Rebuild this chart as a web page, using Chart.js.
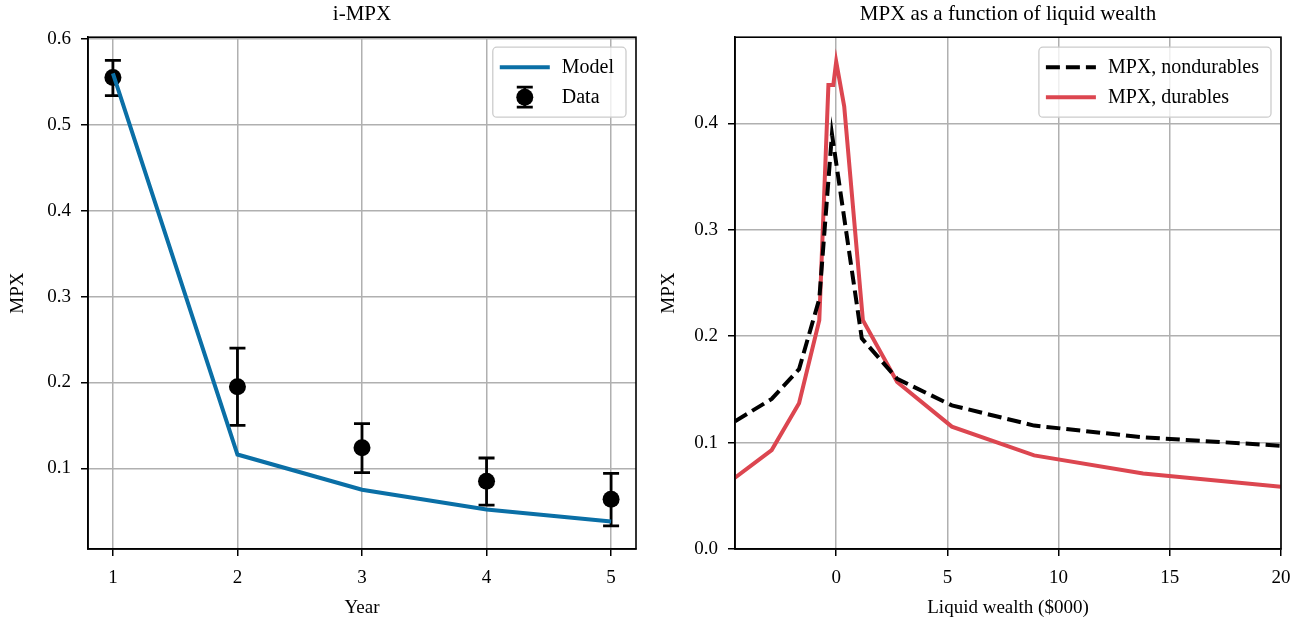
<!DOCTYPE html>
<html>
<head>
<meta charset="utf-8">
<script src="https://cdn.jsdelivr.net/npm/chart.js@4.4.1/dist/chart.umd.min.js"></script>
<style>
  html, body { margin: 0; padding: 0; background: #fff; }
  .wrap { position: absolute; top: 0; width: 651px; height: 623px; }
  #left { left: 0; }
  #right { left: 651px; }
</style>
</head>
<body>
<div class="wrap" id="left"><canvas id="cLeft"></canvas></div>
<div class="wrap" id="right"><canvas id="cRight"></canvas></div>
<script>
// left panel: i-MPX by year
const years = [1, 2, 3, 4, 5];
const modelMpx = [0.56, 0.116, 0.075, 0.052, 0.038];
const dataMpx = [0.555, 0.195, 0.124, 0.085, 0.064];
const dataLow = [0.534, 0.150, 0.095, 0.057, 0.033];
const dataHigh = [0.575, 0.240, 0.152, 0.112, 0.094];
const yearTicks = [1, 2, 3, 4, 5];
const leftMpxTicks = [0.1, 0.2, 0.3, 0.4, 0.5, 0.6];

// right panel: MPX vs liquid wealth ($000)
const wealthNondur = [-4.55, -2.9, -1.67, -0.76, -0.19, 1.15, 2.74, 5.2, 8.9, 13.8, 20];
const mpxNondur = [0.12, 0.141, 0.169, 0.235, 0.39, 0.198, 0.16, 0.135, 0.116, 0.105, 0.097];
const wealthDur = [-4.55, -2.9, -1.67, -0.76, -0.35, -0.13, 0.0, 0.36, 1.2, 2.74, 5.2, 8.9, 13.8, 20];
const mpxDur = [0.067, 0.093, 0.137, 0.215, 0.436, 0.436, 0.458, 0.416, 0.215, 0.157, 0.115, 0.088, 0.071, 0.0585];
const wealthTicks = [0, 5, 10, 15, 20];
const rightMpxTicks = [0.0, 0.1, 0.2, 0.3, 0.4];

const BLUE = '#0a6fa6';
const RED = '#dc4650';
const FONT = "'Liberation Serif', 'DejaVu Serif', serif";

Chart.defaults.font.family = FONT;
Chart.defaults.color = '#000';
Chart.defaults.animation = false;

const toPts = (xs, ys) => xs.map((x, i) => ({ x: x, y: ys[i] }));

function axis(min, max, ticks, fmt, title, fitSize, isY) {
  return {
    type: 'linear',
    min: min,
    max: max,
    afterBuildTicks: s => { s.ticks = ticks.map(v => ({ value: v })); },
    afterFit: s => { if (isY) s.width = fitSize; else s.height = fitSize; },
    ticks: { font: { size: 19 }, padding: isY ? 10 : 11, callback: fmt, maxRotation: 0, autoSkip: false },
    grid: { color: '#b0b0b0', lineWidth: 1.5, tickColor: '#000', tickLength: 7, tickWidth: 1.5 },
    border: { display: true, color: '#000', width: 1.6 },
    title: { display: true, text: title, font: { size: 19 }, padding: isY ? { top: 7, bottom: 0 } : { top: 0, bottom: 4 } }
  };
}

// black frame all round the plot area
const frame = {
  id: 'frame',
  afterDraw(chart) {
    const a = chart.chartArea, c = chart.ctx;
    c.save();
    c.strokeStyle = '#000';
    c.lineWidth = 1.6;
    c.strokeRect(a.left, a.top, a.right - a.left, a.bottom - a.top);
    c.restore();
  }
};

function drawErrBar(c, x, y0, y1, cap) {
  c.beginPath();
  c.moveTo(x, y0); c.lineTo(x, y1);
  c.moveTo(x - cap, y0); c.lineTo(x + cap, y0);
  c.moveTo(x - cap, y1); c.lineTo(x + cap, y1);
  c.stroke();
}

const errBars = {
  id: 'errBars',
  beforeDatasetDraw(chart, args) {
    if (args.index !== 1) return;
    const xs = chart.scales.x, ys = chart.scales.y, c = chart.ctx;
    c.save();
    c.strokeStyle = '#000';
    c.lineWidth = 2.8;
    years.forEach((yr, i) => {
      drawErrBar(c, xs.getPixelForValue(yr), ys.getPixelForValue(dataLow[i]), ys.getPixelForValue(dataHigh[i]), 8);
    });
    c.restore();
  }
};

// legend drawn inside the plot area, upper right
function insideLegend(entries) {
  return {
    id: 'insideLegend',
    afterDraw(chart) {
      const a = chart.chartArea, c = chart.ctx;
      c.save();
      c.font = '20px ' + FONT;
      const tw = Math.max(...entries.map(e => c.measureText(e.label).width));
      const w = 7 + 50 + 12 + tw + 12, h = 70;
      const x0 = a.right - 10 - w, y0 = a.top + 10;
      c.fillStyle = 'rgba(255,255,255,0.8)';
      c.strokeStyle = '#cccccc';
      c.lineWidth = 1.3;
      c.beginPath();
      c.roundRect(x0, y0, w, h, 4);
      c.fill(); c.stroke();
      entries.forEach((e, i) => {
        const y = y0 + 20 + i * 30;
        const hx = x0 + 7;
        c.strokeStyle = e.color;
        c.fillStyle = e.color;
        if (e.kind === 'err') {
          c.lineWidth = 2.8;
          drawErrBar(c, hx + 25, y - 10, y + 10, 8);
          c.beginPath(); c.arc(hx + 25, y, 8.5, 0, Math.PI * 2); c.fill();
        } else {
          c.lineWidth = 4;
          c.setLineDash(e.dash || []);
          c.beginPath(); c.moveTo(hx, y); c.lineTo(hx + 50, y); c.stroke();
          c.setLineDash([]);
        }
        c.fillStyle = '#000';
        c.textBaseline = 'middle';
        c.fillText(e.label, hx + 62, y + 1);
      });
      c.restore();
    }
  };
}

new Chart(document.getElementById('cLeft'), {
  type: 'scatter',
  data: {
    datasets: [
      { label: 'Model', data: toPts(years, modelMpx), showLine: true, borderColor: BLUE, borderWidth: 4, pointRadius: 0 },
      { label: 'Data', data: toPts(years, dataMpx), showLine: false, backgroundColor: '#000', borderColor: '#000', pointRadius: 8.5, borderWidth: 0 }
    ]
  },
  options: {
    responsive: true,
    maintainAspectRatio: false,
    layout: { padding: { left: 0, right: 15, top: 0, bottom: 0 } },
    plugins: {
      legend: { display: false },
      tooltip: { enabled: false },
      title: { display: true, text: 'i-MPX', fullSize: false, font: { size: 21, weight: 'normal' }, padding: { top: 2, bottom: 10 } }
    },
    scales: {
      x: axis(0.8, 5.2, yearTicks, v => String(v), 'Year', 74, false),
      y: axis(0.006, 0.602, leftMpxTicks, v => v.toFixed(1), 'MPX', 88, true)
    }
  },
  plugins: [errBars, frame, insideLegend([
    { label: 'Model', color: BLUE, kind: 'line' },
    { label: 'Data', color: '#000', kind: 'err' }
  ])]
});

new Chart(document.getElementById('cRight'), {
  type: 'scatter',
  data: {
    datasets: [
      { label: 'MPX, nondurables', data: toPts(wealthNondur, mpxNondur), showLine: true, borderColor: '#000', borderWidth: 4, borderDash: [14, 6], pointRadius: 0 },
      { label: 'MPX, durables', data: toPts(wealthDur, mpxDur), showLine: true, borderColor: RED, borderWidth: 4, pointRadius: 0 }
    ]
  },
  options: {
    responsive: true,
    maintainAspectRatio: false,
    layout: { padding: { left: 0, right: 21, top: 0, bottom: 0 } },
    plugins: {
      legend: { display: false },
      tooltip: { enabled: false },
      title: { display: true, text: 'MPX as a function of liquid wealth', fullSize: false, font: { size: 21, weight: 'normal' }, padding: { top: 2, bottom: 10 } }
    },
    scales: {
      x: axis(-4.55, 20, wealthTicks, v => String(v), 'Liquid wealth ($000)', 74, false),
      y: axis(0, 0.481, rightMpxTicks, v => v.toFixed(1), 'MPX', 84, true)
    }
  },
  plugins: [frame, insideLegend([
    { label: 'MPX, nondurables', color: '#000', kind: 'line', dash: [14, 6] },
    { label: 'MPX, durables', color: RED, kind: 'line' }
  ])]
});
</script>
</body>
</html>
